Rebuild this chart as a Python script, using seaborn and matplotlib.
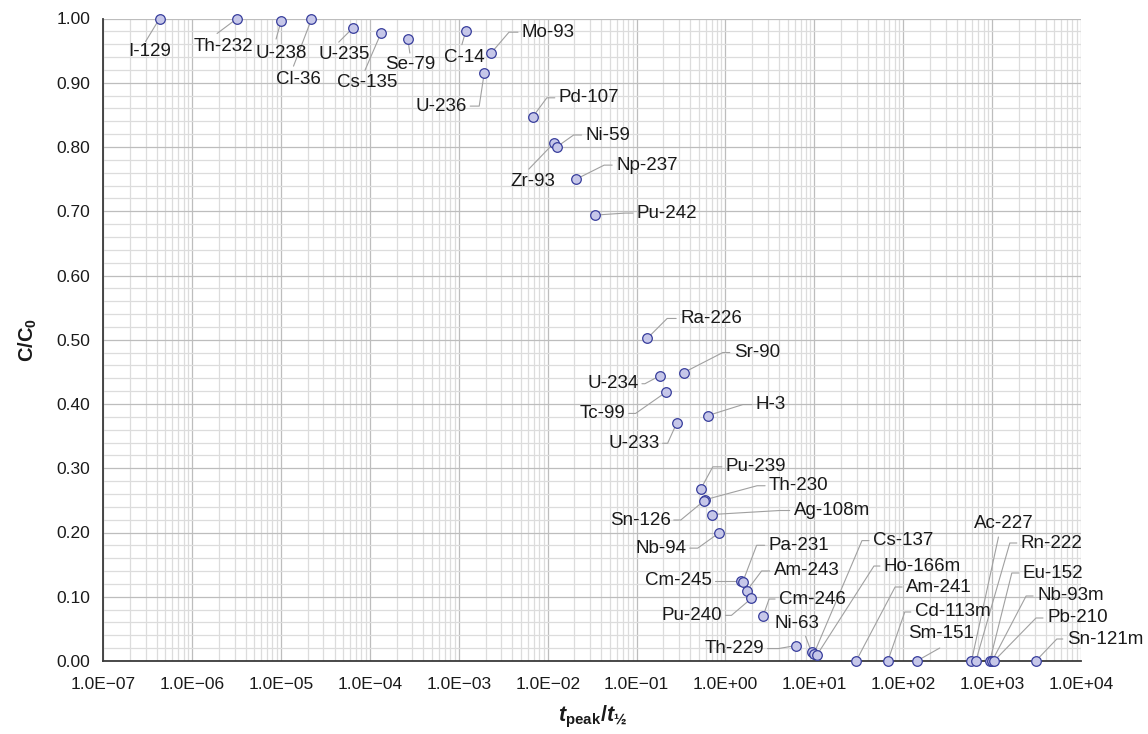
import math
import numpy as np
import pandas as pd
import matplotlib
matplotlib.use("Agg")
import matplotlib.pyplot as plt
import matplotlib.ticker as mticker
from matplotlib.transforms import IdentityTransform
import seaborn as sns

# ---------------- data ----------------
nuclides = ["I-129", "Th-232", "U-238", "Cl-36", "U-235", "Cs-135", "Se-79", "C-14",
            "Mo-93", "U-236", "Pd-107", "Zr-93", "Ni-59", "Np-237", "Pu-242",
            "Ra-226", "U-234", "Sr-90", "Tc-99", "H-3", "U-233",
            "Pu-239", "Th-230", "Sn-126", "Ag-108m", "Nb-94",
            "Cm-245", "Pa-231", "Am-243", "Pu-240", "Cm-246", "Th-229",
            "Ni-63", "Cs-137", "Ho-166m", "Am-241", "Cd-113m", "Sm-151",
            "Ac-227", "Rn-222", "Eu-152", "Nb-93m", "Pb-210", "Sn-121m"]
t_peak_over_half_life = [4.3e-7, 3.2e-6, 1.0e-5, 2.2e-5, 6.4e-5, 1.33e-4, 2.67e-4, 1.2e-3,
                         2.3e-3, 1.93e-3, 6.8e-3, 1.17e-2, 1.26e-2, 2.09e-2, 3.4e-2,
                         0.1315, 0.183, 0.34, 0.212, 0.634, 0.282,
                         0.528, 0.59, 0.57, 0.70, 0.84,
                         1.49, 1.56, 1.73, 1.96, 2.65, 6.14,
                         9.3, 9.9, 10.7, 29.5, 67.0, 142.0,
                         586.0, 656.0, 942.0, 1000.0, 1050.0, 3100.0]
c_over_c0 = [1.000, 1.000, 0.996, 0.999, 0.985, 0.977, 0.968, 0.981,
             0.946, 0.915, 0.847, 0.806, 0.800, 0.750, 0.694,
             0.502, 0.444, 0.449, 0.418, 0.382, 0.370,
             0.268, 0.251, 0.249, 0.228, 0.199,
             0.125, 0.1225, 0.109, 0.0975, 0.070, 0.024,
             0.0135, 0.0115, 0.0093, 0.0, 0.0, 0.0,
             0.0, 0.0, 0.0, 0.0, 0.0, 0.0]
x_tick_exponents = list(range(-7, 5))
y_ticks = [0.0, 0.1, 0.2, 0.3, 0.4, 0.5, 0.6, 0.7, 0.8, 0.9, 1.0]

# ---------------- label layout (pixel offsets from marker: right, down) ----------------
label_layout = {
    "I-129":   ((-10, 33), "center", [(-14, 23)]),
    "Th-232":  ((-14, 28), "center", [(-20, 15)]),
    "U-238":   ((0, 32), "center", [(-5, 18)]),
    "Cl-36":   ((-13, 60), "center", [(-18, 47)]),
    "U-235":   ((-9, 26), "center", [(-14, 14)]),
    "Cs-135":  ((-14, 49), "center", [(-16, 37)]),
    "Se-79":   ((2, 25), "center", [(2, 14)]),
    "C-14":    ((-2, 27), "center", [(-4, 14)]),
    "Mo-93":   ((31, -21), "left", [(18, -21), (27, -21)]),
    "U-236":   ((-17, 33), "right", [(-5, 33), (-14, 33)]),
    "Pd-107":  ((26, -19), "left", [(14, -19), (22, -19)]),
    "Zr-93":   ((-21, 38), "center", [(-25, 26)]),
    "Ni-59":   ((29, -12), "left", [(17, -12), (25, -12)]),
    "Np-237":  ((40, -14), "left", [(28, -14), (36, -14)]),
    "Pu-242":  ((42, -2), "left", [(30, -2), (38, -2)]),
    "Ra-226":  ((33, -20), "left", [(20, -20), (29, -20)]),
    "U-234":   ((-21, 8), "right", [(-15, 8), (-18, 8)]),
    "Sr-90":   ((50, -20), "left", [(39, -20), (46, -20)]),
    "Tc-99":   ((-40, 21), "right", [(-30, 21), (-37, 21)]),
    "H-3":     ((48, -11), "left", [(35, -11), (44, -11)]),
    "U-233":   ((-17, 20), "right", [(-9, 20), (-14, 20)]),
    "Pu-239":  ((25, -22), "left", [(12, -22), (21, -22)]),
    "Th-230":  ((64, -14), "left", [(52, -14), (60, -14)]),
    "Sn-126":  ((-33, 19), "right", [(-23, 19), (-30, 19)]),
    "Ag-108m": ((82, -4), "left", [(68, -4), (78, -4)]),
    "Nb-94":   ((-32, 15), "right", [(-21, 15), (-29, 15)]),
    "Cm-245":  ((-29, 0), "right", [(-18, 0), (-26, 0)]),
    "Pa-231":  ((26, -37), "left", [(14, -37), (22, -37)]),
    "Am-243":  ((27, -20), "left", [(15, -20), (23, -20)]),
    "Pu-240":  ((-29, 17), "right", [(-20, 17), (-26, 17)]),
    "Cm-246":  ((16, -17), "left", [(6, -17), (12, -17)]),
    "Th-229":  ((-31, 3), "right", [(-17, 3), (-28, 3)]),
    "Ni-63":   ((-15, -29), "center", [(-6, -16)]),
    "Cs-137":  ((59, -113), "left", [(48, -113), (55, -113)]),
    "Ho-166m": ((67, -89), "left", [(57, -89), (63, -89)]),
    "Am-241":  ((50, -74), "left", [(39, -74), (46, -74)]),
    "Cd-113m": ((27, -49), "left", [(17, -49), (23, -49)]),
    "Sm-151":  ((24, -27), "center", [(23, -13)]),
    "Ac-227":  ((32, -138), "center", [(27, -124)]),
    "Rn-222":  ((45, -118), "left", [(34, -118), (41, -118)]),
    "Eu-152":  ((33, -88), "left", [(22, -88), (29, -88)]),
    "Nb-93m":  ((45, -65), "left", [(34, -65), (41, -65)]),
    "Pb-210":  ((53, -43), "left", [(42, -43), (49, -43)]),
    "Sn-121m": ((31, -22), "left", [(21, -22), (27, -22)]),
}

# ---------------- style ----------------
sns.set_style("white")
plt.rcParams["font.family"] = ["Liberation Sans", "DejaVu Sans"]
plt.rcParams["mathtext.fontset"] = "custom"
plt.rcParams["mathtext.rm"] = "Liberation Sans:bold"
plt.rcParams["mathtext.bf"] = "Liberation Sans:bold"
plt.rcParams["mathtext.it"] = "Liberation Sans:italic:bold"
plt.rcParams["axes.unicode_minus"] = True

DPI = 100
fig = plt.figure(figsize=(11.48, 7.34), dpi=DPI)
W, H = 1148, 734
left_px, right_px, top_px, bottom_px = 103.3, 1081.0, 18.5, 661.0
ax = fig.add_axes([left_px / W, 1 - bottom_px / H,
                   (right_px - left_px) / W, (bottom_px - top_px) / H])

ax.set_xscale("log")
df = pd.DataFrame({"nuclide": nuclides, "t": t_peak_over_half_life, "c": c_over_c0})
sns.scatterplot(data=df, x="t", y="c", ax=ax, s=48, color="#c6c7e9",
                edgecolor="#373d9c", linewidth=0.9, zorder=6, clip_on=False,
                legend=False)

ax.set_xlim(10.0 ** x_tick_exponents[0], 10.0 ** x_tick_exponents[-1])
ax.set_ylim(y_ticks[0], y_ticks[-1])

# ticks
ax.xaxis.set_major_locator(mticker.FixedLocator([10.0 ** e for e in x_tick_exponents]))
ax.xaxis.set_minor_locator(mticker.LogLocator(base=10, subs=np.arange(2, 10), numticks=100))
ax.xaxis.set_major_formatter(mticker.FuncFormatter(
    lambda v, p: ("1.0E%+03d" % int(round(math.log10(v)))).replace("-", "\u2212")))
ax.xaxis.set_minor_formatter(mticker.NullFormatter())
ax.yaxis.set_major_locator(mticker.FixedLocator(y_ticks))
ax.yaxis.set_minor_locator(mticker.MultipleLocator(0.02))
ax.yaxis.set_major_formatter(mticker.FormatStrFormatter("%.2f"))

ax.tick_params(axis="both", which="major", direction="out", length=4.3, width=1,
               color="#404040", labelsize=12.5, labelcolor="#1a1a1a")
ax.tick_params(axis="x", which="major", pad=7)
ax.tick_params(axis="y", which="major", pad=5)
ax.tick_params(axis="both", which="minor", length=0)

ax.grid(True, which="minor", color="#dcdcdc", linewidth=0.9)
ax.grid(True, which="major", color="#bdbdbd", linewidth=0.9)
ax.set_axisbelow(True)

for side in ["top", "right"]:
    ax.spines[side].set_visible(False)
for side in ["left", "bottom"]:
    ax.spines[side].set_color("#3a3a3a")
    ax.spines[side].set_linewidth(1.3)
    ax.spines[side].set_zorder(5)

ax.set_xlabel(r"$t_{\mathrm{peak}}/t_{\mathrm{½}}$", fontsize=15.5, color="#1a1a1a")
ax.set_ylabel(r"$\mathrm{C/C_0}$", fontsize=14.5, color="#1a1a1a")
ax.xaxis.set_label_coords(0.5, -0.066)
ax.yaxis.set_label_coords(-0.066, 0.5)

# ---------------- labels with leader lines ----------------
ident = IdentityTransform()
r_marker = 4.8
for name, xv, yv in zip(nuclides, t_peak_over_half_life, c_over_c0):
    (tdx, tdy), ha, pts = label_layout[name]
    mx, my = ax.transData.transform((xv, yv))
    x1, y1 = pts[0]
    d = math.hypot(x1, y1)
    sx, sy = x1 * r_marker / d, y1 * r_marker / d
    xs = [mx + sx] + [mx + p[0] for p in pts]
    ys = [my - sy] + [my - p[1] for p in pts]
    ax.plot(xs, ys, transform=ident, color="#a0a0a0", linewidth=0.8,
            zorder=4, clip_on=False)
    ax.annotate(name, xy=(xv, yv), xytext=(tdx, -tdy), textcoords="offset pixels",
                ha=ha, va="center", fontsize=13.5, color="#1a1a1a",
                annotation_clip=False, zorder=7)

fig.savefig("out.png", dpi=DPI)
